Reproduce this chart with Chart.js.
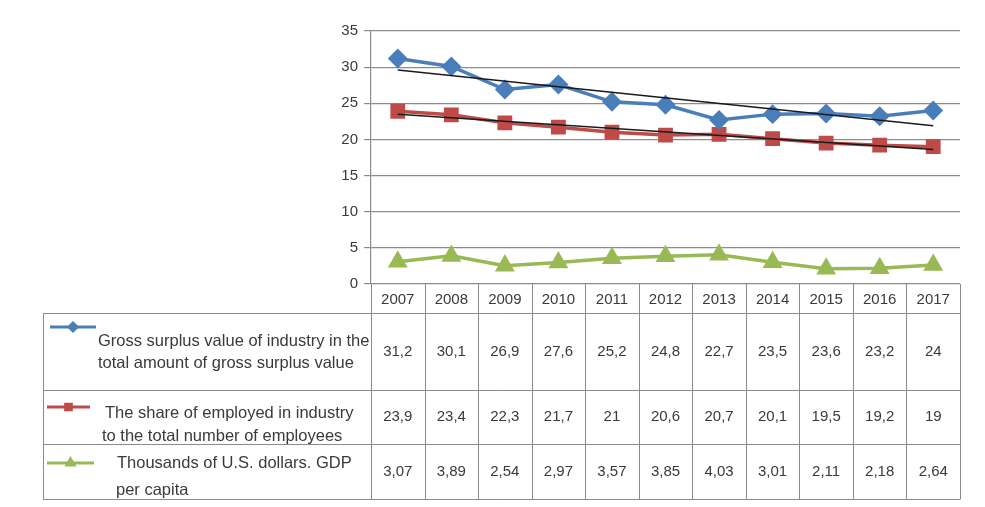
<!DOCTYPE html>
<html>
<head>
<meta charset="utf-8">
<script src="https://cdn.jsdelivr.net/npm/chart.js@4.4.0/dist/chart.umd.min.js"></script>
<style>
  html, body { margin: 0; padding: 0; background: #fff; }
  #wrap { width: 985px; height: 507px; position: relative; }
</style>
</head>
<body>
<div id="wrap"><canvas id="c" width="985" height="507"></canvas></div>
<script>
// ---- data ----
const years = ['2007','2008','2009','2010','2011','2012','2013','2014','2015','2016','2017'];
const grossSurplus = [31.2, 30.1, 26.9, 27.6, 25.2, 24.8, 22.7, 23.5, 23.6, 23.2, 24];
const employedShare = [23.9, 23.4, 22.3, 21.7, 21, 20.6, 20.7, 20.1, 19.5, 19.2, 19];
const gdpPerCapita = [3.07, 3.89, 2.54, 2.97, 3.57, 3.85, 4.03, 3.01, 2.11, 2.18, 2.64];
// trendline endpoints
const grossTrend = [29.6, null, null, null, null, null, null, null, null, null, 21.9];
const employedTrend = [23.5, null, null, null, null, null, null, null, null, null, 18.6];
const grossLabel = ['Gross surplus value of industry in the', 'total amount of gross surplus value'];
const employedLabel = ['The share of employed in industry', 'to the total number of employees'];
const gdpLabel = ['Thousands of U.S. dollars. GDP', 'per capita'];
const valueLabels = [
  ['31,2','30,1','26,9','27,6','25,2','24,8','22,7','23,5','23,6','23,2','24'],
  ['23,9','23,4','22,3','21,7','21','20,6','20,7','20,1','19,5','19,2','19'],
  ['3,07','3,89','2,54','2,97','3,57','3,85','4,03','3,01','2,11','2,18','2,64']
];

const BLUE = '#4a7ebb', RED = '#be4b48', GREEN = '#98b954';
const FONT = '"Liberation Sans", Arial, sans-serif';

const tablePlugin = {
  id: 'dataTable',
  afterDraw(chart) {
    const ctx = chart.ctx;
    const x = chart.scales.x;
    const area = chart.chartArea;
    const n = years.length;
    const colW = (area.right - area.left) / n;
    const headTop = area.bottom;
    const rowTops = [313, 390, 444, 499];
    const legLeft = 43;
    ctx.save();
    ctx.strokeStyle = '#8a8a8a';
    ctx.lineWidth = 1;
    ctx.beginPath();
    rowTops.forEach((y) => {
      ctx.moveTo(legLeft, y + 0.5); ctx.lineTo(area.right, y + 0.5);
    });
    for (let i = 0; i <= n; i++) {
      const xx = Math.round(area.left + i * colW) + 0.5;
      ctx.moveTo(xx, headTop); ctx.lineTo(xx, rowTops[3] + 0.5);
    }
    ctx.moveTo(legLeft + 0.5, rowTops[0]); ctx.lineTo(legLeft + 0.5, rowTops[3] + 0.5);
    ctx.stroke();

    ctx.fillStyle = '#3a3a3a';
    ctx.textAlign = 'center';
    ctx.textBaseline = 'middle';
    ctx.font = '15px ' + FONT;
    const rowMid = [(headTop + rowTops[0]) / 2 + 1, (rowTops[0] + rowTops[1]) / 2, (rowTops[1] + rowTops[2]) / 2, (rowTops[2] + rowTops[3]) / 2];
    years.forEach((yr, i) => {
      const cx = x.getPixelForValue(i);
      ctx.fillText(yr, cx, rowMid[0]);
      for (let r = 0; r < 3; r++) ctx.fillText(valueLabels[r][i], cx, rowMid[r + 1]);
    });

    const entries = [
      { ds: chart.data.datasets[0], lines: grossLabel, ly: 327, lx0: 50, lx1: 96, tx: [98, 98], ty: [341, 363] },
      { ds: chart.data.datasets[1], lines: employedLabel, ly: 407, lx0: 47, lx1: 90, tx: [105, 102], ty: [413, 436] },
      { ds: chart.data.datasets[2], lines: gdpLabel, ly: 463, lx0: 47, lx1: 94, tx: [117, 116], ty: [463, 490] }
    ];
    entries.forEach(e => {
      ctx.strokeStyle = e.ds.borderColor;
      ctx.lineWidth = 3;
      ctx.beginPath();
      ctx.moveTo(e.lx0, e.ly); ctx.lineTo(e.lx1, e.ly);
      ctx.stroke();
      Chart.helpers.drawPoint(ctx, {
        pointStyle: e.ds.pointStyle, radius: 4, borderWidth: 1, rotation: 0
      }, (e.lx0 + e.lx1) / 2, e.ly);
      ctx.fillStyle = e.ds.pointBackgroundColor;
      ctx.fill();
      ctx.fillStyle = '#3a3a3a';
      ctx.textAlign = 'left';
      ctx.font = '16.5px ' + FONT;
      e.lines.forEach((t, i) => ctx.fillText(t, e.tx[i], e.ty[i]));
    });
    ctx.restore();
  }
};

new Chart(document.getElementById('c'), {
  type: 'line',
  data: {
    labels: years,
    datasets: [
      { label: grossLabel.join(' '), data: grossSurplus, borderColor: BLUE, backgroundColor: BLUE,
        pointBackgroundColor: BLUE, pointBorderColor: BLUE, borderWidth: 3.5, pointStyle: 'rectRot', pointRadius: 7.5, order: 3 },
      { label: employedLabel.join(' '), data: employedShare, borderColor: RED, backgroundColor: RED,
        pointBackgroundColor: RED, pointBorderColor: RED, borderWidth: 3.5, pointStyle: 'rect', pointRadius: 8, order: 4 },
      { label: gdpLabel.join(' '), data: gdpPerCapita, borderColor: GREEN, backgroundColor: GREEN,
        pointBackgroundColor: GREEN, pointBorderColor: GREEN, borderWidth: 3.5, pointStyle: 'triangle', pointRadius: 8, order: 5 },
      { label: 'trend1', data: grossTrend, borderColor: '#1a1a1a', borderWidth: 1.5, pointRadius: 0, spanGaps: true, order: 1 },
      { label: 'trend2', data: employedTrend, borderColor: '#1a1a1a', borderWidth: 1.5, pointRadius: 0, spanGaps: true, order: 2 }
    ]
  },
  options: {
    responsive: false,
    animation: false,
    devicePixelRatio: 1,
    layout: { padding: { left: 0, top: 31, right: 25, bottom: 223 } },
    plugins: { legend: { display: false }, tooltip: { enabled: false } },
    scales: {
      x: { display: false, offset: true },
      y: {
        min: 0, max: 35,
        afterFit(s) { s.width = 371; },
        ticks: { stepSize: 5, color: '#3a3a3a', font: { size: 15, family: FONT }, padding: 6 },
        grid: { color: '#8c8c8c', lineWidth: 1.2, tickLength: 7 },
        border: { color: '#8c8c8c', width: 1.2 }
      }
    }
  },
  plugins: [tablePlugin]
});
</script>
</body>
</html>
